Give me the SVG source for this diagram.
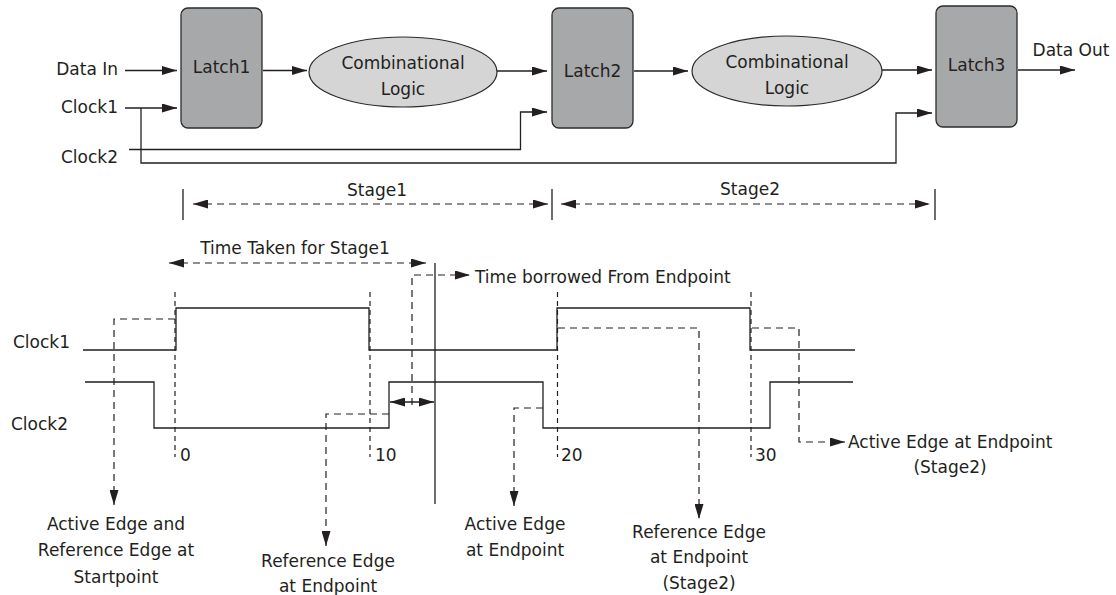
<svg xmlns="http://www.w3.org/2000/svg" width="1116" height="595" viewBox="0 0 1116 595">
<defs>
<style>
text{font-family:"DejaVu Sans","Liberation Sans",sans-serif;font-size:17px;fill:#231f20}
.c{text-anchor:middle}
.e{text-anchor:end}
.ln{fill:none;stroke:#231f20;stroke-width:1.3}
.latch{fill:#a7a8aa;stroke:#2b2b2b;stroke-width:1.3}
.comb{fill:#d5d5d6;stroke:#2b2b2b;stroke-width:1.2}
.dh{fill:none;stroke:#231f20;stroke-width:1.2;stroke-dasharray:7 5}
.dv{fill:none;stroke:#231f20;stroke-width:1.2;stroke-dasharray:5 4}
.ar{marker-end:url(#ah)}
.ar2{marker-start:url(#ah);marker-end:url(#ah)}
</style>
<marker id="ah" markerUnits="userSpaceOnUse" markerWidth="15" markerHeight="9" refX="15" refY="4.5" orient="auto-start-reverse">
<path d="M0,0 L15,4.5 L0,9 z" fill="#231f20"/>
</marker>
</defs>
<rect width="1116" height="595" fill="#fff"/>

<g id="inputs">
<text class="e" x="118" y="75">Data In</text>
<text class="e" x="118" y="113">Clock1</text>
<text class="e" x="118" y="163">Clock2</text>
</g>
<g id="latch1"><rect class="latch" x="181" y="8" width="81" height="120" rx="7"/><text class="c" x="221.5" y="73">Latch1</text></g>
<g id="comb1"><ellipse class="comb" cx="403" cy="72" rx="94" ry="35"/><text class="c" x="403" y="69">Combinational</text><text class="c" x="403" y="95">Logic</text></g>
<g id="latch2"><rect class="latch" x="552" y="8" width="81" height="120" rx="7"/><text class="c" x="592.5" y="77">Latch2</text></g>
<g id="comb2"><ellipse class="comb" cx="787" cy="71" rx="95" ry="35"/><text class="c" x="787" y="68">Combinational</text><text class="c" x="787" y="94">Logic</text></g>
<g id="latch3"><rect class="latch" x="936" y="6" width="81" height="121" rx="7"/><text class="c" x="976.5" y="71">Latch3</text></g>
<g id="dataout"><text class="c" x="1071" y="56">Data Out</text></g>

<g id="connectors">
<path class="ln ar" d="M125,70.5 H177"/>
<path class="ln ar" d="M125,108 H177"/>
<path class="ln ar" d="M141,108 V163 H896 V113 H932"/>
<path class="ln ar" d="M129,149.5 H520.5 V112 H547"/>
<path class="ln ar" d="M263,70.5 H307"/>
<path class="ln ar" d="M497,71 H547"/>
<path class="ln ar" d="M634,71 H688"/>
<path class="ln ar" d="M882,70 H932"/>
<path class="ln ar" d="M1018,70 H1075"/>
</g>

<g id="stages">
<path class="ln" d="M183,189 V220 M552,189 V220 M935,189 V220"/>
<path class="dh ar2" d="M193,204 H548"/>
<path class="dh ar2" d="M561,204 H930"/>
<text class="c" x="377" y="196">Stage1</text>
<text class="c" x="750" y="195">Stage2</text>
</g>

<g id="timing">
<text x="13" y="348">Clock1</text>
<text x="11" y="430">Clock2</text>
<path class="ln" d="M83,350 H176 V308 H369 V350 H557 V308 H750 V350 H855"/>
<path class="ln" d="M85,382 H154 V428 H389 V382 H543 V428 H770 V382 H853"/>
<path class="dv" d="M175,292 V457 M370,292 V457 M557.5,292 V457 M751,292 V457"/>
<text x="180" y="461">0</text>
<text x="375" y="461">10</text>
<text x="561" y="461">20</text>
<text x="755" y="461">30</text>
<path class="dh ar2" d="M169,263 H426"/>
<text class="c" x="295" y="254">Time Taken for Stage1</text>
<path class="ln" d="M435,263 V504"/>
<path class="dh ar" d="M412,405 V275 H470"/>
<text x="475" y="283">Time borrowed From Endpoint</text>
<path class="ln ar2" d="M390,402 H434"/>
<path class="dh ar" d="M175,319 H114 V505"/>
<path class="dh ar" d="M389,414 H326 V546"/>
<path class="dh ar" d="M543,408 H514 V506"/>
<path class="dh ar" d="M558,328 H699 V519"/>
<path class="dh ar" d="M752,328 H799 V442 H845"/>
</g>

<g id="notes">
<text class="c" x="116" y="530">Active Edge and</text>
<text class="c" x="116" y="556">Reference Edge at</text>
<text class="c" x="116" y="583">Startpoint</text>
<text class="c" x="328" y="567">Reference Edge</text>
<text class="c" x="328" y="592">at Endpoint</text>
<text class="c" x="515" y="530">Active Edge</text>
<text class="c" x="515" y="556">at Endpoint</text>
<text class="c" x="699" y="538">Reference Edge</text>
<text class="c" x="699" y="563">at Endpoint</text>
<text class="c" x="699" y="589">(Stage2)</text>
<text x="848" y="448">Active Edge at Endpoint</text>
<text class="c" x="950" y="473">(Stage2)</text>
</g>
</svg>
